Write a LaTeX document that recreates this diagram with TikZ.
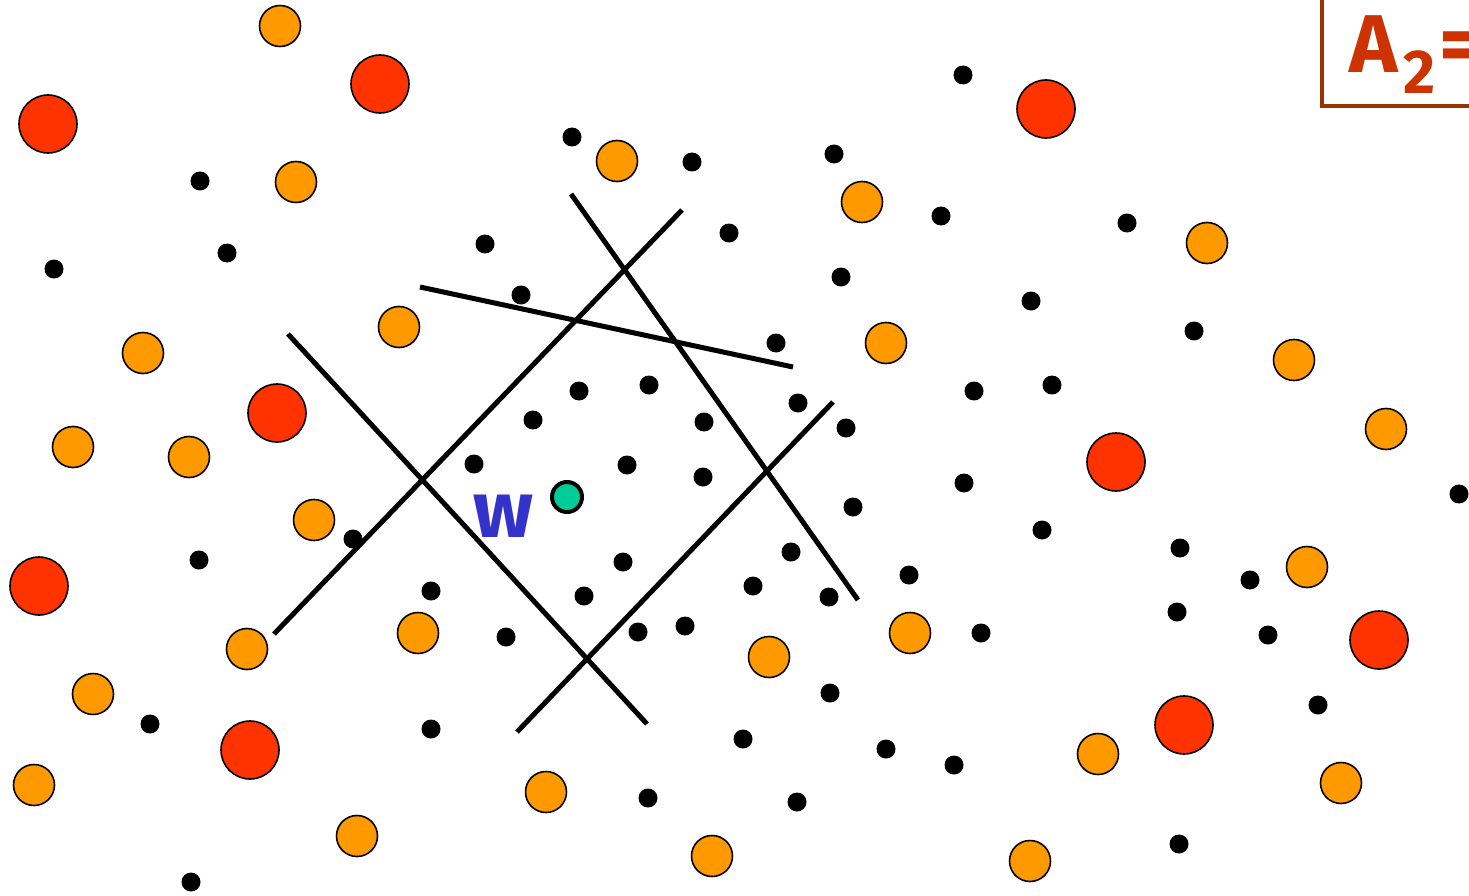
\documentclass[tikz,border=0pt]{standalone}
\usepackage{fontspec}
\newfontfamily\labfont{Fira Sans}
\definecolor{orangefill}{HTML}{FF9900}
\definecolor{redfill}{HTML}{FF3300}
\definecolor{greenfill}{HTML}{00CC99}
\definecolor{wblue}{HTML}{3333CC}
\definecolor{atext}{HTML}{CC3300}
\definecolor{aframe}{HTML}{993300}
\tikzset{
  odot/.style={circle,draw=black,line width=1.6pt,fill=orangefill,minimum size=41pt,inner sep=0pt},
  rdot/.style={circle,draw=black,line width=1.6pt,fill=redfill,minimum size=58pt,inner sep=0pt},
  bdot/.style={circle,fill=black,minimum size=19pt,inner sep=0pt},
  gdot/.style={circle,draw=black,line width=4pt,fill=greenfill,minimum size=30pt,inner sep=0pt},
  bisector/.style={line width=5pt,black},
  framebox/.style={line width=4pt,draw=aframe}
}
\begin{document}
\begin{tikzpicture}[x=1pt,y=-1pt]
\useasboundingbox (0,0) rectangle (1469,896);
\clip (0,0) rectangle (1469,896);
% orange points
\foreach \px/\py [count=\i] in {280/26,296/182,617/161,862/202,399/327,143/353,73/447,189/457,314/520,886/343,1207/243,1294/360,1386/429,1307/567,247/649,418/633,93/694,34/785,357/836,546/792,769/657,910/633,712/856,1030/861,1098/754,1341/783}
  \node[odot] (o\i) at (\px,\py) {};
% red points
\foreach \px/\py [count=\i] in {380/84,48/124,1046/109,277/413,39/586,1116/462,1379/640,250/750,1184/725}
  \node[rdot] (r\i) at (\px,\py) {};
% black points
\foreach \px/\py [count=\i] in {963/75,572/137,692/162,834/154,200/181,941/216,1127/223,729/233,227/253,54/269,485/244,841/277,521/295,1031/301,1194/331,776/343,579/391,649/385,974/391,1052/385,533/420,704/422,798/403,846/428,474/464,627/465,703/477,964/483,853/507,1459/494,353/539,1042/530,791/552,623/562,1180/548,909/575,1250/580,199/560,431/591,584/596,753/586,829/597,1177/612,1268/635,981/633,638/632,685/626,506/637,830/693,150/724,431/729,743/739,886/749,954/765,1318/705,648/798,797/802,1179/844,191/882}
  \node[bdot] (b\i) at (\px,\py) {};
% bisector lines
\coordinate (l1a) at (571,194); \coordinate (l1b) at (858,600);
\coordinate (l2a) at (682,210); \coordinate (l2b) at (274,634);
\coordinate (l3a) at (420,287); \coordinate (l3b) at (793,367);
\coordinate (l4a) at (288,334); \coordinate (l4b) at (647,724);
\coordinate (l5a) at (833,402); \coordinate (l5b) at (517,732);
\draw[bisector] (l1a) -- (l1b);
\draw[bisector] (l2a) -- (l2b);
\draw[bisector] (l3a) -- (l3b);
\draw[bisector] (l4a) -- (l4b);
\draw[bisector] (l5a) -- (l5b);
% query point
\node[gdot] (w) at (567,497) {};
\node[font=\labfont\bfseries\fontsize{80}{80}\selectfont,text=wblue,inner sep=0pt,anchor=base] (wlab) at (503,537) {w};
% A2 box
\coordinate (fa) at (1322,-20);
\coordinate (fb) at (1500,106);
\draw[framebox] (fa) rectangle (fb);
\node[font=\labfont\bfseries\fontsize{82}{82}\selectfont,text=atext,inner sep=0pt,anchor=base west] (alab) at (1349,73) {A\kern6pt\raisebox{-21pt}{\fontsize{62}{62}\selectfont 2}\kern4pt=};
\end{tikzpicture}
\end{document}
